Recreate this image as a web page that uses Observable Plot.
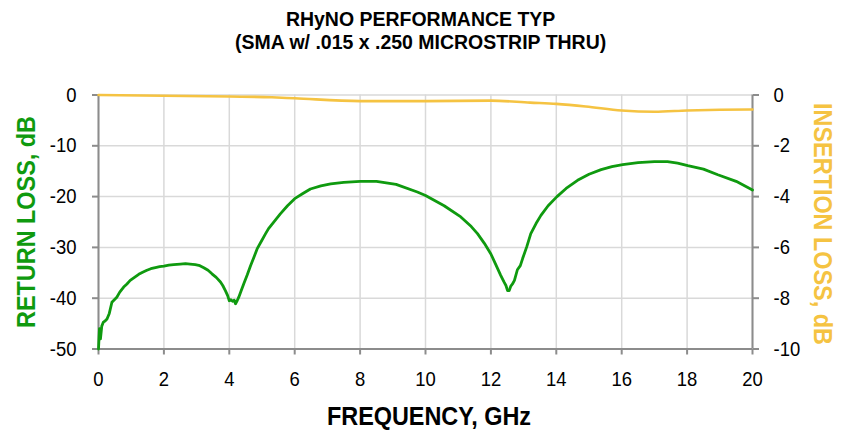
<!DOCTYPE html>
<html><head><meta charset="utf-8">
<script src="https://cdn.jsdelivr.net/npm/d3@7"></script>
<script src="https://cdn.jsdelivr.net/npm/@observablehq/plot@0.6"></script>
<style>
body{margin:0;background:#fff;}
#wrap{position:relative;width:841px;height:434px;overflow:hidden;font-family:"Liberation Sans",Arial,sans-serif;}
.t{position:absolute;left:0;width:841px;text-align:center;font-weight:bold;font-size:20.5px;line-height:23px;color:#000;white-space:nowrap;transform:scaleX(0.95);transform-origin:423px 50%;}
.lab{position:absolute;font-weight:bold;font-size:26px;line-height:26px;white-space:nowrap;transform-origin:center center;}
#chart{position:absolute;left:0;top:0;}
</style></head>
<body>
<div id="wrap">
  <div id="chart"></div>
  <div class="t" style="top:6.5px">RHyNO PERFORMANCE TYP<br>(SMA w/ .015 x .250 MICROSTRIP THRU)</div>
  <div class="lab" id="xl" style="color:#000">FREQUENCY, GHz</div>
  <div class="lab" id="yl" style="color:#0f9a0f">RETURN LOSS, dB</div>
  <div class="lab" id="yr" style="color:#f5c342">INSERTION LOSS, dB</div>
</div>
<script>
// Return loss (green), left axis, dB
const rlFreq = [0,0.03,0.06,0.1,0.15,0.2,0.26,0.33,0.41,0.5,0.56,0.65,0.77,0.87,0.97,1.1,1.23,1.35,1.48,1.6,1.74,1.87,2.0,2.15,2.3,2.5,2.66,2.8,2.96,3.1,3.22,3.35,3.47,3.6,3.73,3.8,3.88,3.95,4.0,4.05,4.1,4.15,4.19,4.24,4.29,4.36,4.44,4.55,4.65,4.75,4.85,4.98,5.11,5.2,5.31,5.45,5.56,5.78,6.0,6.25,6.48,6.8,7.1,7.5,8.0,8.5,9.1,9.75,10.0,10.57,11.08,11.4,11.59,11.8,12.0,12.15,12.3,12.4,12.46,12.51,12.56,12.61,12.66,12.72,12.81,12.9,12.97,13.1,13.22,13.38,13.53,13.75,14.02,14.3,14.65,15.0,15.37,15.7,16.03,16.5,17.0,17.4,17.71,18.02,18.5,18.94,19.5,20.0];
const rlDb = [-50,-46,-48,-45.5,-44.7,-44.5,-44.1,-43,-40.8,-40.2,-39.8,-38.8,-37.8,-37.2,-36.5,-35.9,-35.3,-34.9,-34.5,-34.2,-34.0,-33.8,-33.7,-33.5,-33.4,-33.3,-33.2,-33.3,-33.4,-33.6,-34.0,-34.5,-35.2,-35.9,-36.8,-37.5,-38.5,-39.5,-40.5,-40.3,-40.6,-40.4,-41.1,-40.5,-39.8,-38.6,-37.2,-35.4,-33.6,-32.0,-30.3,-28.8,-27.3,-26.3,-25.4,-24.3,-23.4,-21.8,-20.4,-19.4,-18.5,-17.9,-17.5,-17.2,-17.0,-17.0,-17.6,-19.1,-19.8,-21.8,-24.0,-25.9,-27.3,-29.2,-31.3,-33.4,-35.5,-36.8,-37.5,-38.5,-38.5,-37.6,-37.2,-36.5,-34.4,-33.6,-32.2,-29.8,-27.3,-25.3,-23.7,-21.8,-20.0,-18.4,-16.8,-15.6,-14.7,-14.1,-13.7,-13.3,-13.1,-13.1,-13.4,-13.9,-14.6,-15.7,-17.0,-18.7];
// Insertion loss (yellow), right axis, dB
const ilFreq = [0,2,4,5.3,6,8,10,12,13.2,14,14.9,16,17,18,19,20];
const ilDb = [0,-0.03,-0.06,-0.09,-0.13,-0.24,-0.24,-0.22,-0.3,-0.35,-0.45,-0.61,-0.66,-0.61,-0.58,-0.57];
// Tick values
const xTicks = [0,2,4,6,8,10,12,14,16,18,20];
const yLeftTicks = [0,-10,-20,-30,-40,-50];
const yRightTicks = [0,-2,-4,-6,-8,-10];

const RATIO = 5; // left-axis dB per right-axis dB
const rl = rlFreq.map((f,i)=>({f, v: rlDb[i]}));
const il = ilFreq.map((f,i)=>({f, v: ilDb[i]}));
const FONT = '"Liberation Sans",Arial,sans-serif';

const chart = Plot.plot({
  width: 841, height: 434,
  marginLeft: 98, marginRight: 89, marginTop: 94.5, marginBottom: 85.5,
  x: {domain: [0, 20]},
  y: {domain: [-50, 0]},
  style: {fontFamily: FONT, fontSize: "20.5px", color: "#000", background: "transparent"},
  marks: [
    Plot.gridX(xTicks, {stroke: "#d9d9d9", strokeOpacity: 1, strokeWidth: 1.5}),
    Plot.gridY(yLeftTicks, {stroke: "#d9d9d9", strokeOpacity: 1, strokeWidth: 1.5}),
    Plot.ruleX([0, 20], {stroke: "#8c8c8c", strokeWidth: 2}),
    Plot.ruleY([-50], {stroke: "#8c8c8c", strokeWidth: 2}),
    Plot.axisX(xTicks, {anchor: "bottom", tickSize: 6, tickPadding: 16, stroke: "#8c8c8c", strokeWidth: 2, fill: "#000", tickFormat: d => String(d), label: null}),
    Plot.axisY(yLeftTicks, {anchor: "left", tickSize: 6, tickPadding: 16, stroke: "#8c8c8c", strokeWidth: 2, fill: "#000", tickFormat: d => String(d), label: null}),
    Plot.axisY(yRightTicks.map(d => d * RATIO), {anchor: "right", tickSize: 6, tickPadding: 15, stroke: "#8c8c8c", strokeWidth: 2, fill: "#000", tickFormat: d => String(d / RATIO), label: null}),
    Plot.line(il, {x: "f", y: d => d.v * RATIO, stroke: "#f5c342", strokeWidth: 2.6, curve: "monotone-x"}),
    Plot.line(rl, {x: "f", y: "v", stroke: "#0f9a0f", strokeWidth: 2.8})
  ]
});
// narrow the tick labels (Arial Narrow look)
chart.querySelectorAll('g[aria-label$="tick label"] text').forEach(t => {
  const tr = t.getAttribute("transform") || "";
  t.setAttribute("transform", tr + " scale(0.9,1)");
});
document.getElementById("chart").appendChild(chart);

function place(id, cx, cy, rot) {
  const el = document.getElementById(id);
  el.style.left = cx + "px"; el.style.top = cy + "px";
  el.style.transform = `translate(-50%,-50%) rotate(${rot}deg) scaleX(0.9)`;
}
place("xl", 429, 416, 0);
place("yl", 26, 222, -90);
place("yr", 823, 224, 90);
</script>
</body></html>
